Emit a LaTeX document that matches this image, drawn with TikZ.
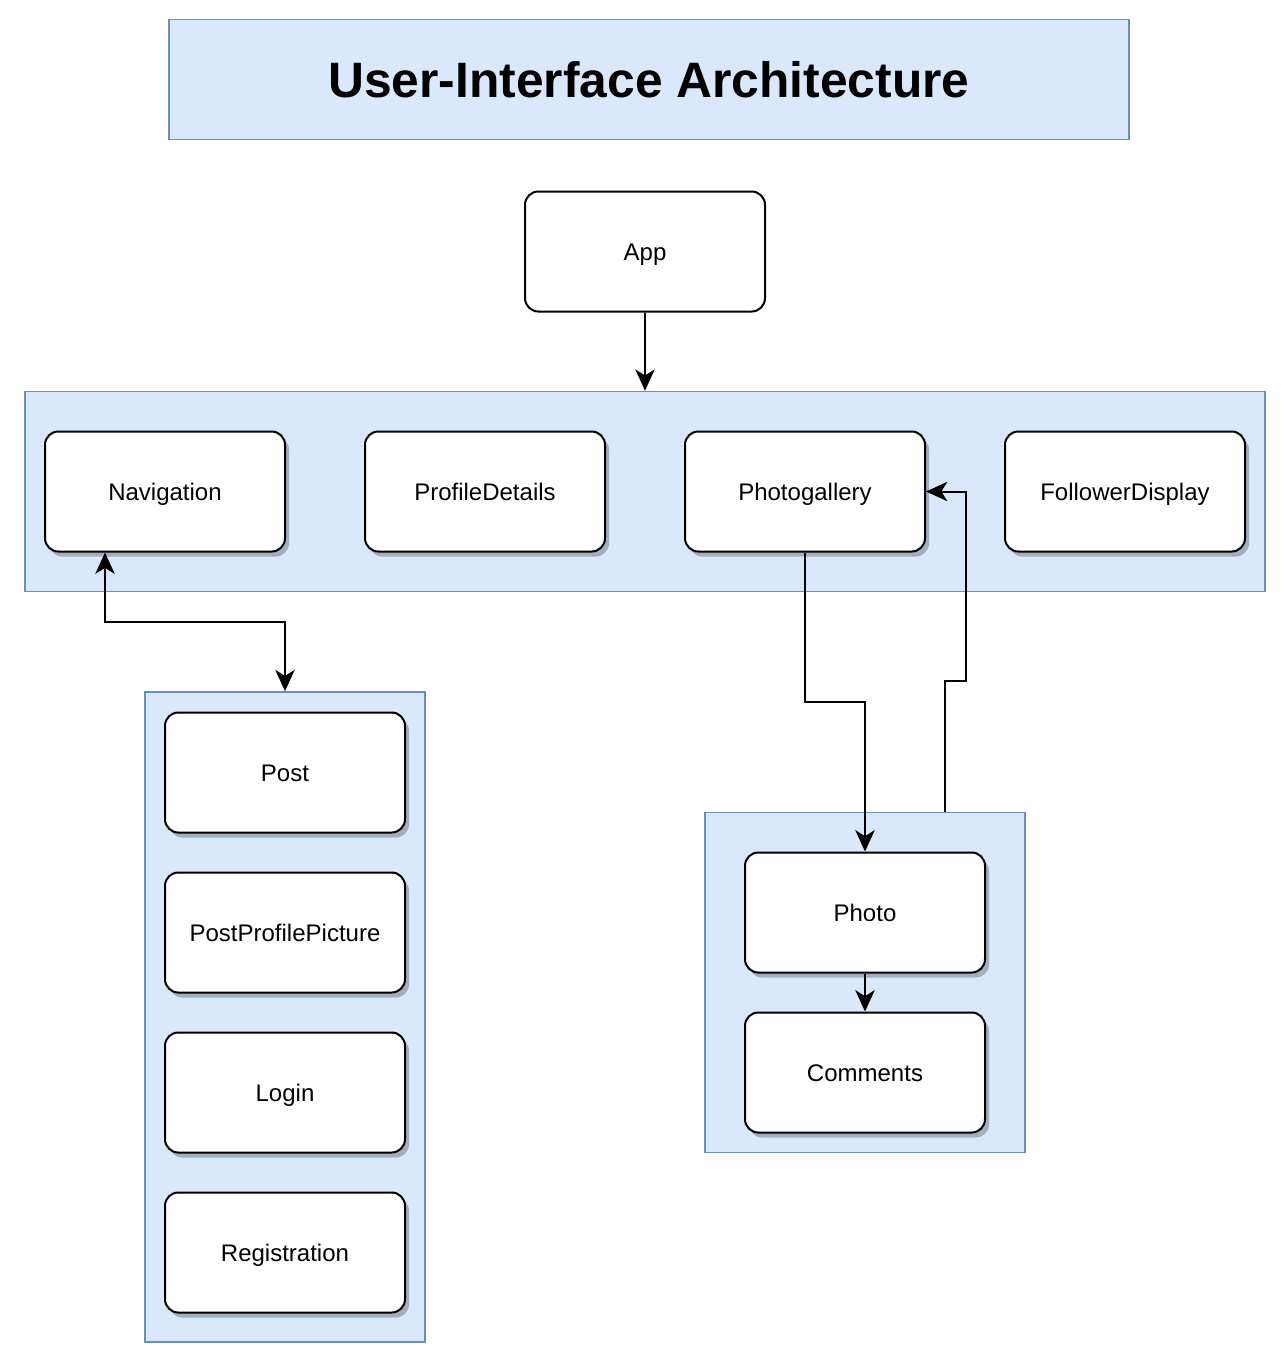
\documentclass[tikz,border=0pt]{standalone}
\usepackage{fontspec}
\setmainfont{Liberation Sans}
\usetikzlibrary{arrows.meta,calc,shadows}
\definecolor{cfill}{HTML}{DAE8FC}
\definecolor{cdraw}{HTML}{6C8EBF}
\tikzset{myhead/.tip={Stealth[length=16pt,width=14.5pt,inset=4.5pt]}}
\begin{document}
\begin{tikzpicture}[x=0.75pt,y=-0.75pt,
  container/.style={draw=cdraw,fill=cfill,line width=1.1pt,rectangle,inner sep=0pt},
  comp/.style={draw=black,fill=white,line width=1.5pt,rounded corners=10pt,
    minimum width=180pt,minimum height=90pt,inner sep=0pt,text height=12.9pt,text depth=0pt,
    font=\fontsize{18}{21}\selectfont},
  shad/.style={drop shadow={shadow xshift=3pt,shadow yshift=-3.8pt,fill=black,opacity=0.25}},
  arr/.style={line width=1.5pt,-myhead},
  darr/.style={line width=1.5pt,myhead-myhead}]
\useasboundingbox (0,0) rectangle (1282,1365);
% title
\node[container,minimum width=720pt,minimum height=90pt,text height=26.7pt,text depth=0pt,
  font=\fontsize{37.3}{40}\selectfont\bfseries] (title) at (649,79.5) {User-Interface Architecture};
% containers
\node[container,minimum width=930pt,minimum height=150pt] (top) at (645,491.5) {};
\node[container,minimum width=210pt,minimum height=487.5pt] (lc) at (285,1017) {};
\node[container,minimum width=240pt,minimum height=255pt] (rc) at (865,982.5) {};
% components
\node[comp] (app) at (645,251.5) {App};
\node[comp,shad] (nav) at (165,491.5) {Navigation};
\node[comp,shad] (pd) at (485,491.5) {ProfileDetails};
\node[comp,shad] (pg) at (805,491.5) {Photogallery};
\node[comp,shad] (fd) at (1125,491.5) {FollowerDisplay};
\node[comp,shad] (post) at (285,772.5) {Post};
\node[comp,shad] (ppp) at (285,932.5) {PostProfilePicture};
\node[comp,shad] (login) at (285,1092.5) {Login};
\node[comp,shad] (reg) at (285,1252.5) {Registration};
\node[comp,shad] (photo) at (865,912.5) {Photo};
\node[comp,shad] (com) at (865,1072.5) {Comments};
% connectors
\draw[arr] (app.south) -- (top.north);
\draw[darr] ($(nav.south)+(-60,0)$) |- ($($(nav.south)+(-60,0)$)!.5!(lc.north)$) -| (lc.north);
\draw[arr] (pg.south) |- ($(pg.south)!.5!(photo.north)$) -| (photo.north);
\draw[arr] ($(rc.north)+(80,0)$) -- ++(0,-131) -| ($(pg.east)+(40,0)$) -- (pg.east);
\draw[arr] (photo.south) -- (com.north);
\end{tikzpicture}
\end{document}
